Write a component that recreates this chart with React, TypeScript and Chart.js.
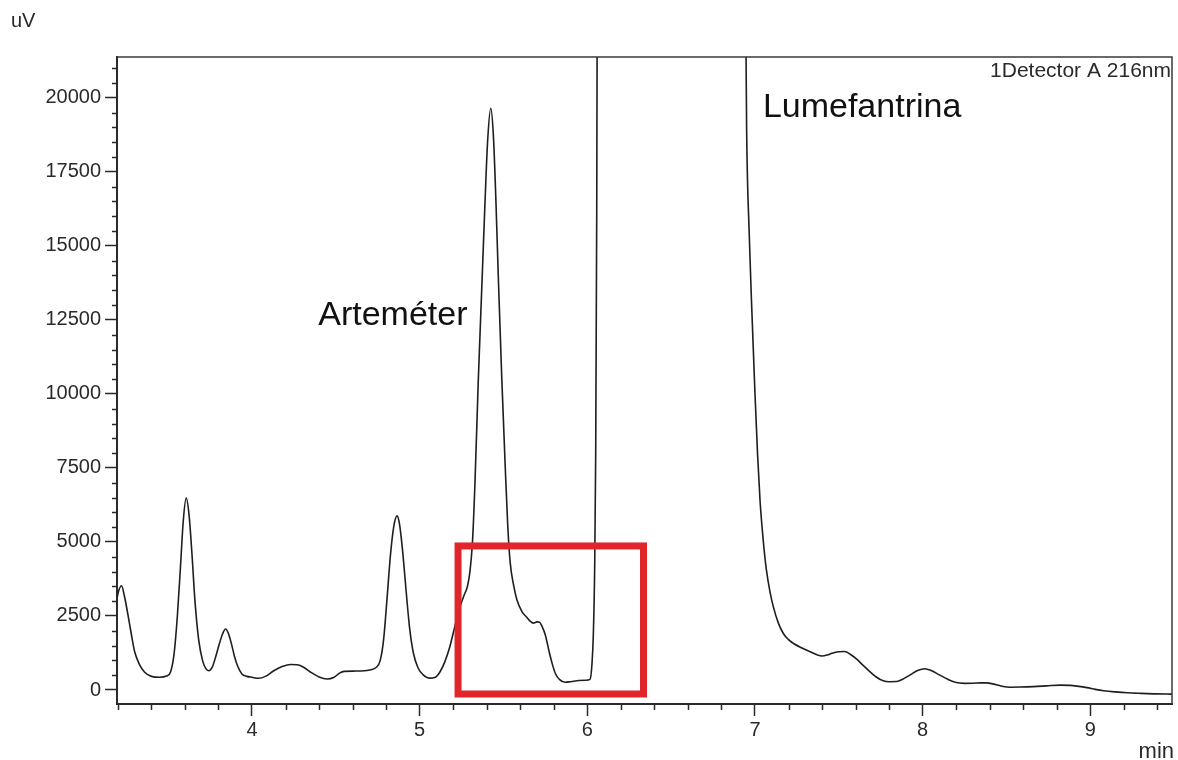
import React, { useEffect, useRef } from 'react';
import { Chart, registerables } from 'chart.js';

Chart.register(...registerables);

// ---- data (min, uV) ----
const retentionTime = [
  3.195, 3.205, 3.222, 3.24, 3.26, 3.28, 3.3, 3.33, 3.36, 3.4, 3.45, 3.49, 3.515, 3.535, 3.555, 3.575, 3.59, 3.608,
  3.625, 3.642, 3.66, 3.682, 3.705, 3.725, 3.742, 3.765, 3.785, 3.805, 3.825, 3.843, 3.86, 3.878, 3.895, 3.915, 3.94,
  3.97, 4.0, 4.04, 4.08, 4.13, 4.18, 4.23, 4.27, 4.31, 4.35, 4.4, 4.447, 4.49, 4.52, 4.55, 4.62, 4.7, 4.74, 4.765,
  4.785, 4.805, 4.825, 4.845, 4.865, 4.88, 4.9, 4.92, 4.94, 4.963, 4.99, 5.02, 5.06, 5.09, 5.12, 5.15, 5.18, 5.21,
  5.24, 5.265, 5.285, 5.3, 5.315, 5.33, 5.35, 5.37, 5.39, 5.405, 5.424, 5.44, 5.455, 5.47, 5.49, 5.51, 5.525, 5.54,
  5.56, 5.58, 5.61, 5.64, 5.66, 5.678, 5.7, 5.715, 5.73, 5.75, 5.77, 5.79, 5.81, 5.835, 5.867, 5.9, 5.95, 5.99, 6.016,
  6.028, 6.036, 6.044, 6.05, 6.056, 6.062, 6.08, 6.3, 6.6, 6.9, 6.935, 6.95, 6.965, 6.98, 7.0, 7.015, 7.03, 7.05,
  7.067, 7.09, 7.11, 7.14, 7.17, 7.2, 7.23, 7.28, 7.33, 7.37, 7.4, 7.43, 7.46, 7.5, 7.535, 7.57, 7.605, 7.645, 7.685,
  7.725, 7.765, 7.8, 7.845, 7.88, 7.925, 7.97, 8.012, 8.05, 8.1, 8.15, 8.2, 8.25, 8.3, 8.35, 8.38, 8.43, 8.48, 8.52,
  8.58, 8.66, 8.74, 8.82, 8.88, 8.92, 8.98, 9.03, 9.08, 9.15, 9.22, 9.3, 9.38, 9.487,
];
const signalUV = [
  3100, 3350, 3520, 3150, 2550, 1900, 1300, 850, 600, 460, 430, 470, 620, 1200, 2500, 4300, 5700, 6480,
  5900, 4600, 3000, 1700, 1000, 720, 650, 800, 1150, 1550, 1900, 2060, 1900, 1550, 1150, 800, 540,
  460, 430, 395, 460, 650, 790, 860, 850, 760, 600, 440, 370, 430, 560, 630, 640, 676, 760, 1000,
  1700, 3050, 4500, 5500, 5880, 5600, 4600, 3300, 2100, 1240, 750, 520, 400, 420, 600, 950, 1460, 2150,
  2800, 3200, 3500, 4000, 5000, 7000, 10500, 13500, 16500, 18500, 19650, 18700, 16500, 13800, 10500, 7600, 5600, 4300,
  3550, 3050, 2650, 2450, 2320, 2260, 2300, 2290, 2150, 1850, 1350, 900, 550, 350, 260, 280, 320, 330, 360,
  900, 1900, 4200, 8000, 16000, 30000, 60000, 120000, 120000, 60000, 30000, 19000, 15500, 13000, 10000, 8000, 6400, 5000,
  4100, 3300, 2800, 2250, 1900, 1700, 1570, 1420, 1290, 1190, 1150, 1180, 1240, 1290, 1300, 1200, 1050, 830, 620,
  430, 310, 280, 285, 360, 510, 660, 720, 660, 510, 360, 250, 225, 230, 240, 240, 190, 120, 95,
  100, 115, 140, 165, 155, 130, 80, 20, -25, -65, -95, -115, -130, -140,
];

const xMajorTicks = [4, 5, 6, 7, 8, 9];
const yMajorTicks = [0, 2500, 5000, 7500, 10000, 12500, 15000, 17500, 20000];

const peakLabels = ['Arteméter', 'Lumefantrina'];
const peakLabelTime = [4.395, 7.047];
const peakLabelSignal = [12330, 19357];

const detectorLabel = '1Detector A 216nm';
const yUnit = 'uV';
const xUnit = 'min';

const highlightTime = [5.229, 6.335];
const highlightSignal = [-135, 4865];

const X_MIN = 3.195;
const X_MAX = 9.487;
const Y_MIN = -473;
const Y_MAX = 21380;

const FONT = "'Liberation Sans', Arial, Helvetica, sans-serif";
const AXIS_COLOR = '#2a2a2a';

const chromPlugin = {
  id: 'chromDecor',
  afterDatasetsDraw(chart: any) {
    const { ctx, scales } = chart;
    const x = scales.x;
    const y = scales.y;
    const x0 = x.getPixelForValue(highlightTime[0]);
    const x1 = x.getPixelForValue(highlightTime[1]);
    const y0 = y.getPixelForValue(highlightSignal[1]);
    const y1 = y.getPixelForValue(highlightSignal[0]);
    ctx.save();
    ctx.strokeStyle = '#e0252b';
    ctx.lineWidth = 7;
    ctx.strokeRect(x0, y0, x1 - x0, y1 - y0);
    ctx.restore();
  },
  afterDraw(chart: any) {
    const { ctx, chartArea: a, scales } = chart;
    const x = scales.x;
    const y = scales.y;
    ctx.save();
    // frame top & right
    ctx.strokeStyle = '#3a3a3a';
    ctx.lineWidth = 1.5;
    ctx.beginPath();
    ctx.moveTo(a.left, a.top);
    ctx.lineTo(a.right, a.top);
    ctx.lineTo(a.right, a.bottom);
    ctx.stroke();

    // minor ticks
    ctx.strokeStyle = AXIS_COLOR;
    ctx.lineWidth = 1.5;
    ctx.beginPath();
    for (let i = 16; i <= 47; i++) {
      const v = i / 5;
      if (i % 5 === 0) continue;
      const px = Math.round(x.getPixelForValue(v)) + 0.5;
      ctx.moveTo(px, a.bottom);
      ctx.lineTo(px, a.bottom + 6);
    }
    for (let v = 500; v <= 21000; v += 500) {
      if (v % 2500 === 0) continue;
      const py = Math.round(y.getPixelForValue(v)) + 0.5;
      ctx.moveTo(a.left, py);
      ctx.lineTo(a.left - 5, py);
    }
    ctx.stroke();

    // texts
    ctx.fillStyle = '#2a2a2a';
    ctx.textBaseline = 'alphabetic';
    ctx.font = `20px ${FONT}`;
    ctx.textAlign = 'left';
    ctx.fillText(yUnit, 11, 27);
    ctx.font = `22px ${FONT}`;
    ctx.textAlign = 'right';
    ctx.fillText(xUnit, 1174, 758);
    ctx.font = `21px ${FONT}`;
    ctx.fillText(detectorLabel, a.right - 1, a.top + 20);

    ctx.fillStyle = '#111';
    ctx.font = `34px ${FONT}`;
    ctx.textAlign = 'left';
    for (let i = 0; i < peakLabels.length; i++) {
      ctx.fillText(peakLabels[i], x.getPixelForValue(peakLabelTime[i]), y.getPixelForValue(peakLabelSignal[i]));
    }
    ctx.restore();
  },
};

export default function App() {
  const ref = useRef<HTMLCanvasElement | null>(null);
  useEffect(() => {
    if (!ref.current) return;
    const points = retentionTime.map((t, i) => ({ x: t, y: signalUV[i] }));
    const chart = new Chart(ref.current, {
      type: 'line',
      data: {
        datasets: [
          {
            data: points,
            borderColor: '#1e1e1e',
            borderWidth: 1.6,
            pointRadius: 0,
            fill: false,
            cubicInterpolationMode: 'monotone',
          },
        ],
      },
      options: {
        responsive: false,
        animation: false,
        layout: { padding: { top: 57, right: 6, left: 0, bottom: 0 } },
        plugins: { legend: { display: false }, tooltip: { enabled: false } },
        scales: {
          x: {
            type: 'linear',
            min: X_MIN,
            max: X_MAX,
            afterBuildTicks: (s: any) => {
              s.ticks = xMajorTicks.map((v) => ({ value: v }));
            },
            afterFit: (s: any) => {
              s.height = 56;
            },
            ticks: {
              font: { family: FONT, size: 20 },
              color: '#2a2a2a',
              padding: 2,
              maxRotation: 0,
              autoSkip: false,
            },
            grid: {
              display: true,
              drawOnChartArea: false,
              drawTicks: true,
              tickLength: 12,
              tickColor: AXIS_COLOR,
              tickWidth: 1.5,
            },
            border: { display: true, color: AXIS_COLOR, width: 2 },
          },
          y: {
            type: 'linear',
            min: Y_MIN,
            max: Y_MAX,
            afterBuildTicks: (s: any) => {
              s.ticks = yMajorTicks.map((v) => ({ value: v }));
            },
            afterFit: (s: any) => {
              s.width = 117;
            },
            ticks: {
              font: { family: FONT, size: 20 },
              color: '#2a2a2a',
              padding: 4,
              autoSkip: false,
              callback: (v: any) => String(v),
            },
            grid: {
              display: true,
              drawOnChartArea: false,
              drawTicks: true,
              tickLength: 12,
              tickColor: AXIS_COLOR,
              tickWidth: 1.5,
            },
            border: { display: true, color: AXIS_COLOR, width: 2 },
          },
        },
      },
      plugins: [chromPlugin],
    });
    return () => chart.destroy();
  }, []);

  return (
    <div style={{ position: 'absolute', left: 0, top: 0, width: 1178, height: 760, background: '#fff' }}>
      <canvas ref={ref} width={1178} height={760} style={{ display: 'block' }} />
    </div>
  );
}
